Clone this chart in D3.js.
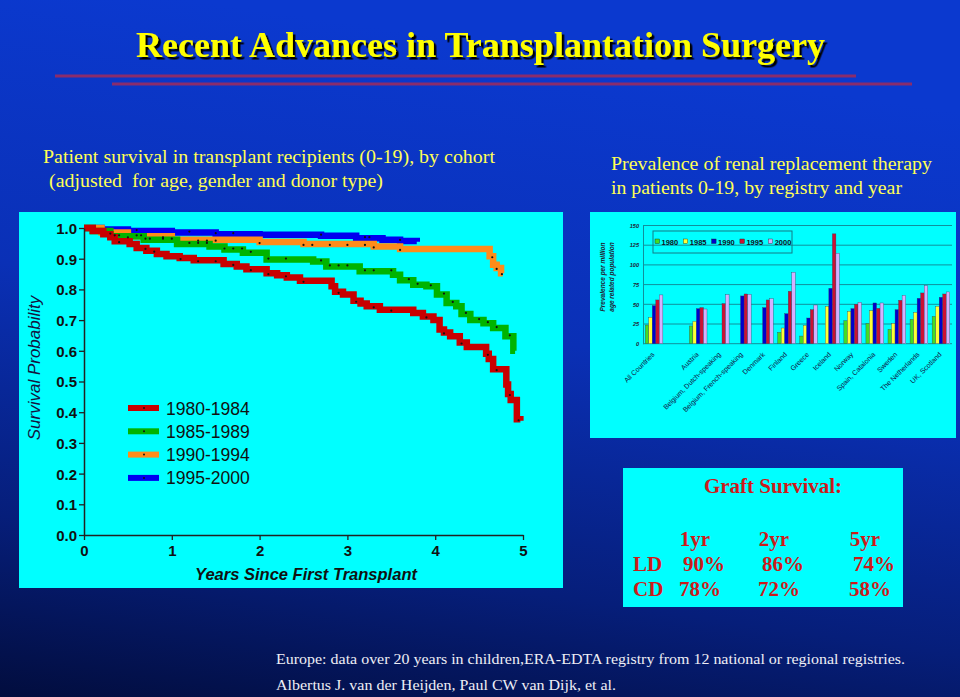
<!DOCTYPE html>
<html>
<head>
<meta charset="utf-8">
<script src="https://cdn.jsdelivr.net/npm/d3@7"></script>
<style>
  html, body { margin: 0; padding: 0; background: #0a2fb3; }
  svg { display: block; }
</style>
</head>
<body>
<svg id="slide" width="960" height="697"></svg>
<script>
// ---------------- DATA ----------------
// Left chart: Kaplan-Meier patient survival by cohort [years, survival]
const cohorts = ["1980-1984", "1985-1989", "1990-1994", "1995-2000"];
const cohortColors = ["#c80000", "#00b400", "#ff8c1a", "#0000f0"];
const surv8084 = [[0,1],[0.1,0.99],[0.22,0.98],[0.3,0.97],[0.35,0.957],[0.52,0.948],[0.6,0.935],[0.71,0.926],[0.83,0.915],[0.94,0.908],[1.09,0.902],[1.25,0.895],[1.59,0.883],[1.74,0.875],[1.85,0.866],[2.08,0.853],[2.2,0.846],[2.31,0.839],[2.46,0.828],[2.82,0.81],[2.86,0.792],[2.95,0.783],[3.07,0.763],[3.15,0.754],[3.22,0.745],[3.37,0.734],[3.75,0.723],[3.86,0.712],[3.98,0.70],[4.05,0.669],[4.1,0.66],[4.17,0.647],[4.28,0.627],[4.36,0.612],[4.58,0.59],[4.61,0.573],[4.66,0.54],[4.81,0.49],[4.83,0.459],[4.86,0.44],[4.93,0.377],[4.97,0.372]];
const surv8589 = [[0,1],[0.1,0.99],[0.3,0.973],[0.68,0.962],[1.06,0.948],[1.43,0.94],[1.6,0.93],[1.81,0.919],[2.08,0.897],[2.61,0.891],[2.76,0.875],[3.14,0.859],[3.52,0.848],[3.6,0.83],[3.75,0.815],[3.9,0.81],[4.02,0.783],[4.13,0.756],[4.24,0.745],[4.3,0.72],[4.4,0.70],[4.55,0.69],[4.66,0.674],[4.8,0.647],[4.89,0.60],[4.91,0.60]];
const surv9094 = [[0,1],[0.2,0.985],[0.5,0.973],[1.0,0.962],[2.0,0.954],[2.5,0.948],[3.3,0.94],[3.6,0.932],[4.62,0.908],[4.66,0.88],[4.7,0.87],[4.75,0.853],[4.77,0.853]];
const surv9500 = [[0,1],[0.2,0.995],[0.5,0.99],[1.0,0.985],[1.5,0.98],[2.0,0.978],[2.7,0.975],[3.1,0.967],[3.4,0.962],[3.6,0.958],[3.79,0.955]];
const censor8084 = [0.4,0.7,0.8,1.1,1.3,1.5,1.7,1.9,2.1,2.3,2.5,2.9,3.1,3.3,3.5,3.9,4.1,4.3,4.6,4.7,4.85,4.95];
const censor8589 = [0.35,0.4,0.6,0.65,0.7,0.75,0.9,1.0,1.2,1.3,1.4,1.6,1.7,1.8,1.9,2.1,2.3,2.7,2.8,2.9,3.0,3.2,3.3,3.5,3.7,3.8,3.95,4.1,4.2,4.35,4.5,4.6,4.7,4.85];
const censor9094 = [0.3,0.5,0.9,1.3,1.4,1.5,2.0,2.5,2.6,2.8,3.0,3.2,3.3,3.6,4.65,4.7,4.76];
const censor9500 = [0.6,1.2,1.5,1.7,2.7,3.2,3.25,3.6];
const survTicksY = [0,0.1,0.2,0.3,0.4,0.5,0.6,0.7,0.8,0.9,1.0];
const survTicksX = [0,1,2,3,4,5];

// Right chart: prevalence of RRT per million age related population
const registries = ["All Countries", "", "Austria", "Belgium, Dutch-speaking", "Belgium, French-speaking", "Denmark", "Finland", "Greece", "Iceland", "Norway", "Spain, Catalonia", "Sweden", "The Netherlands", "UK, Scotland"];
const years = ["1980", "1985", "1990", "1995", "2000"];
const yearColors = ["#44dd22", "#ffff33", "#0000cc", "#cc1133", "#d4b0ff"];
const prev1980 = [23.7, null, 22.5, null, null, null, 14.4, 9.7, null, 29.2, 25.8, 18.2, 30.9, 34.7];
const prev1985 = [33.5, null, 28.4, null, null, null, 19.9, 23.3, 47.5, 41.1, 41.9, 25.8, 39.8, 47.5];
const prev1990 = [48.3, null, 44.5, null, 60.6, 45.8, 38.1, 32.6, 70.3, 44.5, 51.7, 43.2, 57.6, 58.9];
const prev1995 = [55.5, null, 45.8, 50.8, 63.1, 55.5, 66.5, 43.2, 139.4, 50.0, 44.9, 55.1, 64.4, 63.1];
const prev2000 = [61.9, null, 44.0, 62.3, 62.7, 57.2, 90.7, 49.1, 114.8, 52.5, 51.7, 61.4, 73.7, 65.7];
const prevTicks = [0, 25, 50, 75, 100, 125, 150];

// Graft survival table
const graftCols = ["1yr", "2yr", "5yr"];
const graftRows = ["LD", "CD"];
const graftLD = ["90%", "86%", "74%"];
const graftCD = ["78%", "72%", "58%"];

// ---------------- DRAW ----------------
const svg = d3.select("#slide");
const defs = svg.append("defs");
const bg = defs.append("linearGradient").attr("id", "bg")
  .attr("x1", "0.2").attr("y1", "0").attr("x2", "0").attr("y2", "1");
bg.append("stop").attr("offset", "0").attr("stop-color", "#0b39cf");
bg.append("stop").attr("offset", "0.4").attr("stop-color", "#0a30b6");
bg.append("stop").attr("offset", "0.75").attr("stop-color", "#061e7a");
bg.append("stop").attr("offset", "1").attr("stop-color", "#020d3e");
const sh = defs.append("filter").attr("id", "shadow").attr("x", "-5%").attr("y", "-20%").attr("width", "110%").attr("height", "150%");
sh.append("feDropShadow").attr("dx", 2.5).attr("dy", 2.5).attr("stdDeviation", 0.4)
  .attr("flood-color", "#000").attr("flood-opacity", 1);
svg.append("rect").attr("width", 960).attr("height", 697).attr("fill", "url(#bg)");

// Title
const serif = "'Liberation Serif', 'Times New Roman', serif";
const sans = "'Liberation Sans', Arial, sans-serif";
svg.append("text").attr("x", 136).attr("y", 57).text("Recent Advances in Transplantation Surgery")
  .attr("font-family", serif).attr("font-weight", "bold").attr("font-size", 35)
  .attr("textLength", 689).attr("lengthAdjust", "spacingAndGlyphs").attr("fill", "#ffff00")
  .attr("filter", "url(#shadow)");
svg.append("line").attr("x1", 55).attr("x2", 856).attr("y1", 76).attr("y2", 76)
  .attr("stroke", "#8a2c6c").attr("stroke-width", 3);
svg.append("line").attr("x1", 112).attr("x2", 912).attr("y1", 84).attr("y2", 84)
  .attr("stroke", "#8a2c6c").attr("stroke-width", 3);

// Subtitles
const subs = [
  {t: "Patient survival in transplant recipients (0-19), by cohort", x: 43, y: 163, w: 452},
  {t: "(adjusted  for age, gender and donor type)", x: 49, y: 187, w: 334},
  {t: "Prevalence of renal replacement therapy", x: 611, y: 170, w: 321},
  {t: "in patients 0-19, by registry and year", x: 611, y: 194, w: 291}
];
svg.selectAll("text.sub").data(subs).join("text").attr("class", "sub")
  .attr("x", d => d.x).attr("y", d => d.y).text(d => d.t)
  .attr("font-family", serif).attr("font-size", 18.5).attr("fill", "#ffff55")
  .attr("textLength", d => d.w).attr("lengthAdjust", "spacingAndGlyphs")
  .style("white-space", "pre");

// ---------- Left survival chart ----------
svg.append("rect").attr("x", 19).attr("y", 212).attr("width", 544).attr("height", 376).attr("fill", "#00ffff");
const xS = d3.scaleLinear().domain([0, 5]).range([84, 523]);
const yS = d3.scaleLinear().domain([0, 1]).range([535, 228]);
const survSeries = [surv8084, surv8589, surv9094, surv9500];
const censorSeries = [censor8084, censor8589, censor9094, censor9500];
const line = d3.line().x(d => xS(d[0])).y(d => yS(d[1])).curve(d3.curveStepAfter);
const gCurves = svg.append("g");
// draw blue first, red last (red on top, as in the reference)
[3, 2, 1, 0].forEach(i => {
  const s = survSeries[i];
  gCurves.append("path").datum(s).attr("d", line).attr("fill", "none")
    .attr("stroke", cohortColors[i]).attr("stroke-width", 6.5).attr("stroke-linejoin", "miter");
});
survSeries.forEach((s, i) => {
  const stepVal = t => { let v = s[0][1]; for (const p of s) { if (p[0] <= t) v = p[1]; } return v; };
  gCurves.selectAll(null).data(censorSeries[i]).join("circle")
    .attr("cx", t => xS(t)).attr("cy", t => yS(stepVal(t)) + (i % 2 ? -1 : 1))
    .attr("r", 1.1).attr("fill", "#111");
});

const axY = svg.append("g").attr("transform", `translate(${xS(0)},0)`)
  .call(d3.axisLeft(yS).tickValues(survTicksY).tickFormat(d3.format(".1f")).tickSize(5).tickSizeOuter(0));
const axX = svg.append("g").attr("transform", `translate(0,${yS(0)})`)
  .call(d3.axisBottom(xS).tickValues(survTicksX).tickFormat(d3.format("d")).tickSize(5).tickSizeOuter(0));
[axY, axX].forEach(a => {
  a.select(".domain").attr("stroke", "#222").attr("stroke-width", 1.5);
  a.selectAll(".tick line").attr("stroke", "#222").attr("stroke-width", 1.3);
  a.selectAll("text").attr("font-family", sans).attr("font-weight", "bold")
    .attr("font-size", 15).attr("fill", "#111");
});
axY.selectAll("text").attr("x", -7).attr("dy", "0.36em");
axX.selectAll("text").attr("y", 10).attr("dy", "0.71em");

svg.append("text").attr("x", 306).attr("y", 580).attr("text-anchor", "middle")
  .text("Years Since First Transplant").attr("font-family", sans).attr("font-weight", "bold")
  .attr("font-style", "italic").attr("font-size", 16.5).attr("fill", "#111");
svg.append("text").attr("transform", "translate(40,368) rotate(-90)").attr("text-anchor", "middle")
  .text("Survival Probability").attr("font-family", sans).attr("font-style", "italic")
  .attr("font-size", 17).attr("fill", "#141440");

// Legend
const leg = svg.append("g");
cohorts.forEach((c, i) => {
  const yy = 408 + i * 23.3;
  leg.append("line").attr("x1", 128).attr("x2", 159).attr("y1", yy).attr("y2", yy)
    .attr("stroke", cohortColors[i]).attr("stroke-width", 6);
  leg.append("circle").attr("cx", 144).attr("cy", yy).attr("r", 1).attr("fill", "#111");
  leg.append("text").attr("x", 166).attr("y", yy + 6.5).text(c)
    .attr("font-family", sans).attr("font-size", 17.5).attr("fill", "#111");
});

// ---------- Right bar chart ----------
svg.append("rect").attr("x", 590).attr("y", 212).attr("width", 366).attr("height", 226).attr("fill", "#00ffff");
const x0 = d3.scaleBand().domain(registries).range([643, 952]).paddingInner(0.2).paddingOuter(0.1);
const x1 = d3.scaleBand().domain(years).range([0, x0.bandwidth()]);
const yB = d3.scaleLinear().domain([0, 150]).range([343.7, 225.5]);
const prevSeries = [prev1980, prev1985, prev1990, prev1995, prev2000];

const gGrid = svg.append("g");
gGrid.selectAll("line").data(prevTicks).join("line")
  .attr("x1", 643).attr("x2", 952).attr("y1", d => yB(d)).attr("y2", d => yB(d))
  .attr("stroke", "#10909c").attr("stroke-width", 1);
const axB = svg.append("g").attr("transform", "translate(643,0)")
  .call(d3.axisLeft(yB).tickValues(prevTicks).tickSize(0).tickSizeOuter(0));
axB.select(".domain").attr("stroke", "#10909c");
axB.selectAll("text").attr("x", -4).attr("font-family", sans).attr("font-weight", "bold")
  .attr("font-style", "italic").attr("font-size", 5.5).attr("fill", "#223");

const gBars = svg.append("g");
prevSeries.forEach((vals, k) => {
  gBars.selectAll(null).data(registries.map((r, i) => ({r, v: vals[i]})).filter(d => d.v != null))
    .join("rect")
    .attr("x", d => x0(d.r) + x1(years[k]))
    .attr("width", x1.bandwidth())
    .attr("y", d => yB(d.v))
    .attr("height", d => yB(0) - yB(d.v))
    .attr("fill", yearColors[k]).attr("stroke", "#3a3a5a").attr("stroke-width", 0.35);
});

svg.append("g").selectAll("text").data(registries).join("text")
  .attr("transform", d => `translate(${x0(d) + x0.bandwidth() / 2 + 1},355) rotate(-45)`)
  .attr("text-anchor", "end").text(d => d)
  .attr("font-family", sans).attr("font-size", 7).attr("fill", "#101040");

svg.append("text").attr("transform", "translate(605,277) rotate(-90)").attr("text-anchor", "middle")
  .text("Prevalence per million").attr("font-family", sans).attr("font-weight", "bold")
  .attr("font-style", "italic").attr("font-size", 6.5).attr("fill", "#223");
svg.append("text").attr("transform", "translate(614,277) rotate(-90)").attr("text-anchor", "middle")
  .text("age related population").attr("font-family", sans).attr("font-weight", "bold")
  .attr("font-style", "italic").attr("font-size", 6.5).attr("fill", "#223");

const lg = svg.append("g");
lg.append("rect").attr("x", 653).attr("y", 231).attr("width", 139).attr("height", 22)
  .attr("fill", "none").attr("stroke", "#147a86").attr("stroke-width", 1);
years.forEach((yv, k) => {
  const lx = 655 + k * 28.3;
  lg.append("rect").attr("x", lx).attr("y", 239).attr("width", 4.5).attr("height", 4.5)
    .attr("fill", yearColors[k]).attr("stroke", "#222").attr("stroke-width", 0.4);
  lg.append("text").attr("x", lx + 6.5).attr("y", 244.5).text(yv)
    .attr("font-family", sans).attr("font-weight", "bold").attr("font-size", 7.5).attr("fill", "#112");
});

// ---------- Graft survival box ----------
svg.append("rect").attr("x", 623).attr("y", 468).attr("width", 280).attr("height", 139).attr("fill", "#00ffff");
const red = "#cc1a1a";
const gx = [695, 774, 865];
svg.append("text").attr("x", 773).attr("y", 493).attr("text-anchor", "middle").text("Graft Survival:")
  .attr("font-family", serif).attr("font-size", 21).attr("font-weight", "bold").attr("fill", red);
const gt = svg.append("g").attr("font-family", serif).attr("font-size", 21).attr("font-weight", "bold").attr("fill", red);
gt.selectAll("text.col").data(graftCols).join("text").attr("class", "col")
  .attr("x", (d, i) => gx[i]).attr("y", 546).attr("text-anchor", "middle").text(d => d);
[graftLD, graftCD].forEach((row, r) => {
  const yy = 571 + r * 25;
  gt.append("text").attr("x", 633).attr("y", yy).text(graftRows[r]);
  gt.selectAll(null).data(row).join("text")
    .attr("x", (d, i) => gx[i] + (r === 0 ? 9 : 5)).attr("y", yy)
    .attr("text-anchor", "middle").text(d => d);
});

// ---------- Footer ----------
svg.append("text").attr("x", 276).attr("y", 664)
  .text("Europe: data over 20 years in children,ERA-EDTA registry from 12 national or regional registries.")
  .attr("font-family", serif).attr("font-size", 15.5).attr("fill", "#eeeef5")
  .attr("textLength", 629).attr("lengthAdjust", "spacingAndGlyphs");
svg.append("text").attr("x", 276).attr("y", 690)
  .text("Albertus J. van der Heijden, Paul CW van Dijk, et al.")
  .attr("font-family", serif).attr("font-size", 15.5).attr("fill", "#eeeef5")
  .attr("textLength", 340).attr("lengthAdjust", "spacingAndGlyphs");
</script>
</body>
</html>
